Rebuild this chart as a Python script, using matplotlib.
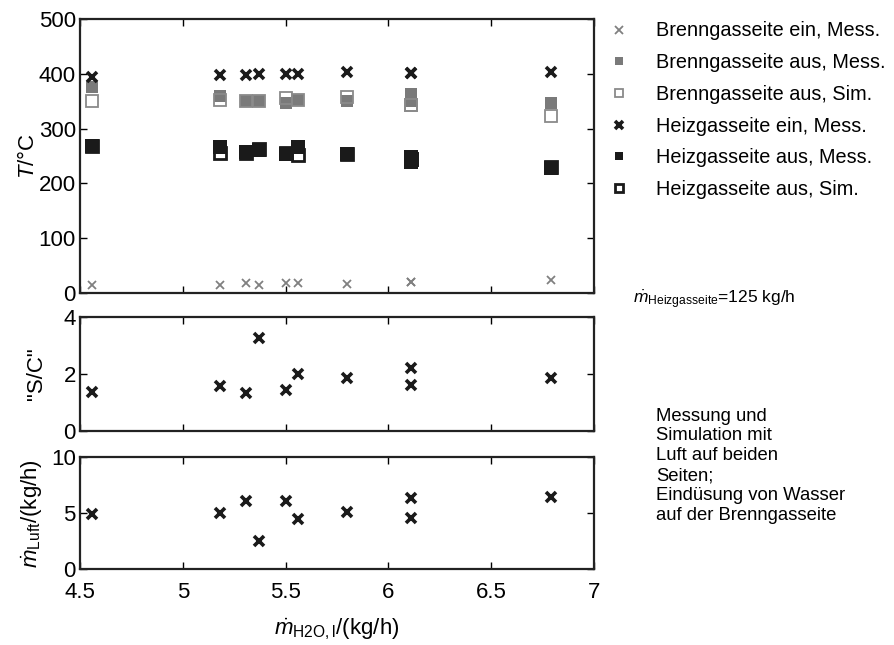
import numpy as np
import matplotlib
matplotlib.use('Agg')
import matplotlib.pyplot as plt

plt.rcParams['font.family'] = ['Liberation Sans', 'DejaVu Sans']
plt.rcParams['mathtext.fontset'] = 'custom'
plt.rcParams['mathtext.rm'] = 'Liberation Sans'
plt.rcParams['mathtext.it'] = 'Liberation Sans:italic'

# water mass flow, one entry per run
m_h2o = [4.56, 5.18, 5.31, 5.37, 5.50, 5.56, 5.80, 6.11, 6.11, 6.79]

# temperatures in degC
bg_ein_mess = [14, 15, 18, 15, 19, 19, 17, 21, 21, 23]
bg_aus_mess = [376, 359, 350, 351, 347, 353, 350, 364, 350, 347]
bg_aus_sim = [350, 352, 350, 350, 356, 352, 358, 344, 344, 323]
hg_ein_mess = [394, 397, 397, 400, 400, 400, 403, 402, 402, 403]
hg_aus_mess = [269, 267, 257, 261, 254, 266, 254, 248, 239, 228]
hg_aus_sim = [268, 255, 256, 262, 255, 252, 253, 245, 245, 230]

s_c = [1.38, 1.59, 1.35, 3.26, 1.44, 1.99, 1.85, 2.20, 1.61, 1.85]
m_luft = [4.9, 5.0, 6.1, 2.5, 6.1, 4.5, 5.1, 6.3, 4.6, 6.4]

legend_labels = ['Brenngasseite ein, Mess.', 'Brenngasseite aus, Mess.',
                 'Brenngasseite aus, Sim.', 'Heizgasseite ein, Mess.',
                 'Heizgasseite aus, Mess.', 'Heizgasseite aus, Sim.']

grey = '#7a7a7a'
dark = '#1a1a1a'
FS = 16

fig = plt.figure(figsize=(8.95, 6.45), dpi=100)
left, width = 0.0894, 0.574
ax1 = fig.add_axes([left, 0.5457, width, 0.4248])
ax2 = fig.add_axes([left, 0.3318, width, 0.1767])
ax3 = fig.add_axes([left, 0.1178, width, 0.1736])

h = []
h += ax1.plot(m_h2o, bg_ein_mess, ls='none', marker='x', ms=6, mew=1.3,
              color='#808080', label=legend_labels[0])
h += ax1.plot(m_h2o, bg_aus_mess, ls='none', marker='s', ms=9, mew=0,
              color=grey, label=legend_labels[1])
h += ax1.plot(m_h2o, bg_aus_sim, ls='none', marker='s', ms=9, mew=1.3,
              mfc='none', mec='#8a8a8a', label=legend_labels[2])
h += ax1.plot(m_h2o, hg_ein_mess, ls='none', marker='x', ms=6.5, mew=2.6,
              color=dark, label=legend_labels[3])
h += ax1.plot(m_h2o, hg_aus_mess, ls='none', marker='s', ms=9.5, mew=0,
              color=dark, label=legend_labels[4])
h += ax1.plot(m_h2o, hg_aus_sim, ls='none', marker='s', ms=9, mew=2,
              mfc='none', mec=dark, label=legend_labels[5])

ax2.plot(m_h2o, s_c, ls='none', marker='x', ms=7, mew=2.6, color=dark)
ax3.plot(m_h2o, m_luft, ls='none', marker='x', ms=7, mew=2.6, color=dark)

ax1.set_ylim(0, 500)
ax1.set_yticks(np.arange(0, 501, 100))
ax2.set_ylim(0, 4)
ax2.set_yticks([0, 2, 4])
ax3.set_ylim(0, 10)
ax3.set_yticks([0, 5, 10])

for ax in (ax1, ax2, ax3):
    ax.set_xlim(4.5, 7)
    ax.set_xticks(np.arange(4.5, 7.01, 0.5))
    ax.tick_params(direction='in', top=True, right=True, labelsize=FS,
                   length=5, width=1, pad=3)
    ax.tick_params(axis='x', pad=9)
    for s in ax.spines.values():
        s.set_linewidth(1.6)
        s.set_color('#222222')
ax1.tick_params(labelbottom=False)
ax2.tick_params(labelbottom=False)
ax3.set_xticklabels(['4.5', '5', '5.5', '6', '6.5', '7'])

ax1.set_ylabel(r'$T$/°C', fontsize=FS, labelpad=0)
ax2.set_ylabel('"S/C"', fontsize=FS, labelpad=12)
ax3.set_ylabel(r'$\dot{m}_{\rm Luft}$/(kg/h)', fontsize=FS, labelpad=4)
ax3.set_xlabel(r'$\dot{m}_{\rm H2O,l}$/(kg/h)', fontsize=FS, labelpad=10)

leg = ax1.legend(handles=h, loc='upper left', bbox_to_anchor=(1.015, 1.02),
                 frameon=False, fontsize=14.3, labelspacing=0.64,
                 handlelength=1.0, handletextpad=1.35, borderaxespad=0)
for lh in leg.legend_handles:
    lh.set_markersize(6)

fig.text(0.707, 0.535, r'$\dot{m}_{\rm Heizgasseite}$=125 kg/h', fontsize=12.5,
         ha='left', va='center')
fig.text(0.733, 0.368,
         'Messung und\nSimulation mit\nLuft auf beiden\nSeiten;\n'
         'Eindüsung von Wasser\nauf der Brenngasseite',
         fontsize=13.3, ha='left', va='top', linespacing=1.22)

fig.savefig('out.png', dpi=100)
